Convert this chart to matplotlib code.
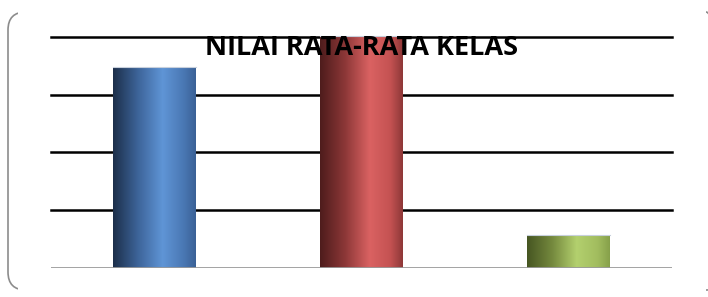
"""Bar chart: NILAI RATA-RATA KELAS (three shaded cylinder-like bars)."""

import matplotlib
matplotlib.use("Agg")
import matplotlib.pyplot as plt
import numpy as np
from matplotlib.colors import LinearSegmentedColormap
from matplotlib.patches import FancyBboxPatch, Rectangle

# ── Data ─────────────────────────────────────────────────────────────────
categories = ["A", "B", "C"]
values = [3.48, 4.02, 0.58]
grid_ticks = [0, 1, 2, 3, 4]
title = "NILAI RATA-RATA KELAS"

# shading per bar: dark left edge, highlight, darker right edge
SHADES = [
    ["#1c2f4a", "#3d6499", "#5f95d6", "#4a78b4", "#3a6196"],
    ["#4e1c1c", "#8c3737", "#da6262", "#c45252", "#8e3838"],
    ["#465622", "#74883d", "#b3d06e", "#a2bd5f", "#86a04a"],
]
SHADE_POS = [0.0, 0.3, 0.6, 0.85, 1.0]

W, H = 708, 297
fig = plt.figure(figsize=(W / 100, H / 100), dpi=100)

# rounded outer frame: only the left side and the right corner tips show
for clip_x, clip_w in [(0, 18), (705.5, 4)]:
    frame = FancyBboxPatch(
        (8 / W, 7 / H), 716 / W, 278 / H,
        boxstyle=f"round,pad=0,rounding_size={18 / W}",
        transform=fig.transFigure, fc="none", ec="#8c8c8c", lw=1.2,
        mutation_aspect=W / H, zorder=-1,
    )
    frame.set_clip_path(Rectangle((clip_x / W, 0), clip_w / W, 1,
                                  transform=fig.transFigure))
    fig.patches.append(frame)

ax = fig.add_axes([0.072, 0.0976, 0.877, 0.778])
x = np.arange(len(categories))
bars = ax.bar(x, values, width=0.4, color="none", zorder=3)
ax.set_xlim(-0.5, len(categories) - 0.5)
ax.set_ylim(0, 4)

grad = np.linspace(0, 1, 256).reshape(1, -1)
for bar, shades in zip(bars, SHADES):
    cmap = LinearSegmentedColormap.from_list("s", list(zip(SHADE_POS, shades)))
    x0, y0 = bar.get_x(), bar.get_y()
    im = ax.imshow(grad, cmap=cmap, aspect="auto", zorder=3,
                   extent=[x0, x0 + bar.get_width(), y0, y0 + bar.get_height()])
    im.set_clip_path(bar)
    ax.plot([x0, x0 + bar.get_width()], [bar.get_height()] * 2,
            color="#c8d0dc", lw=0.8, zorder=4, clip_on=False)

for t in grid_ticks[1:]:
    ax.axhline(t, color="black", lw=1.8, zorder=2, clip_on=False)
ax.axhline(0, color="#9a9a9a", lw=2.0, zorder=5)

for s in ax.spines.values():
    s.set_visible(False)
ax.set_xticks([])
ax.set_yticks([])
ax.patch.set_alpha(0)

fig.text(0.511, 0.84, title, ha="center", va="center", fontsize=19.5,
         fontweight="bold", family="Open Sans", zorder=10)

fig.savefig("out.png", dpi=100)
plt.close(fig)
